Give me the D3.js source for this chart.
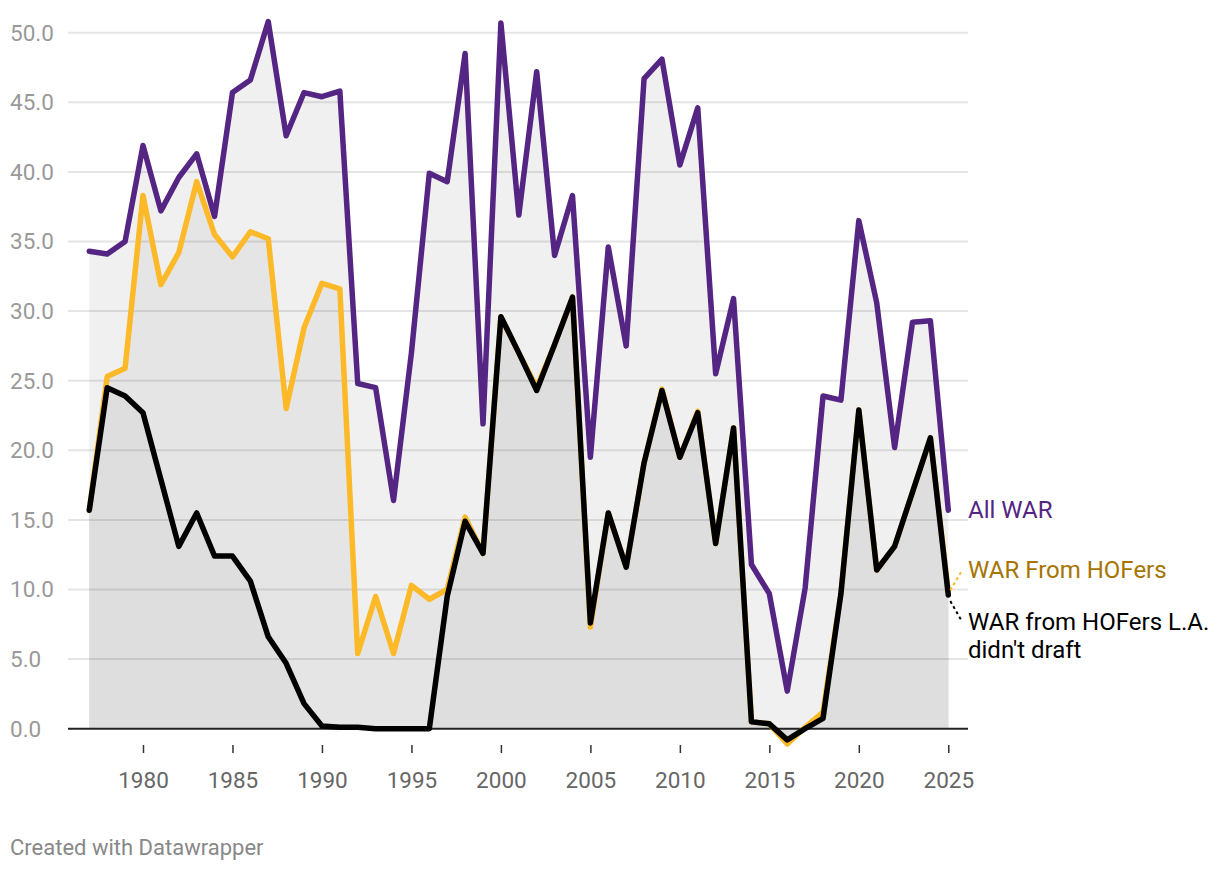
<!DOCTYPE html>
<html>
<head>
<meta charset="utf-8">
<script src="https://cdn.jsdelivr.net/npm/d3@7"></script>
<style>
  body { margin: 0; background: #fff; font-family: Roboto, "Noto Sans", sans-serif; }
  svg text { font-family: Roboto, "Noto Sans", sans-serif; }
</style>
</head>
<body>
<div id="chart"></div>
<script>
// Data
const years = d3.range(1977, 2026);

const allWar = [34.3, 34.1, 35.0, 41.9, 37.2, 39.6, 41.3, 36.8, 45.7, 46.6,
  50.8, 42.6, 45.7, 45.4, 45.8, 24.8, 24.5, 16.4, 27.0, 39.9,
  39.3, 48.5, 21.9, 50.7, 36.9, 47.2, 34.0, 38.3, 19.5, 34.6,
  27.5, 46.7, 48.1, 40.5, 44.6, 25.5, 30.9, 11.8, 9.7, 2.7,
  10.1, 23.9, 23.6, 36.5, 30.6, 20.2, 29.2, 29.3, 15.7];

const hofWar = [15.7, 25.3, 25.9, 38.3, 31.9, 34.2, 39.3, 35.5, 33.9, 35.7,
  35.2, 23.0, 28.8, 32.0, 31.6, 5.4, 9.5, 5.4, 10.3, 9.3,
  10.0, 15.2, 12.6, 29.6, 27.0, 24.5, 27.6, 31.0, 7.3, 15.5,
  11.6, 19.1, 24.4, 19.5, 22.8, 13.3, 21.6, 0.5, 0.35, -1.1,
  0.1, 1.2, 9.7, 22.9, 11.4, 13.1, 17.0, 20.9, 9.8];

const notDraftedWar = [15.7, 24.5, 23.9, 22.7, 17.9, 13.1, 15.5, 12.4, 12.4, 10.6,
  6.6, 4.7, 1.8, 0.2, 0.1, 0.1, 0.0, 0.0, 0.0, 0.0,
  9.5, 14.9, 12.6, 29.6, 27.0, 24.3, 27.6, 31.0, 7.6, 15.5,
  11.6, 19.1, 24.3, 19.5, 22.7, 13.3, 21.6, 0.5, 0.35, -0.8,
  0.0, 0.75, 9.7, 22.9, 11.4, 13.1, 17.0, 20.9, 9.6];

const yTicks = [0, 5, 10, 15, 20, 25, 30, 35, 40, 45, 50];
const xTicks = [1980, 1985, 1990, 1995, 2000, 2005, 2010, 2015, 2020, 2025];

const width = 1220, height = 870;

const svg = d3.select("#chart").append("svg")
  .attr("width", width)
  .attr("height", height);

const x = d3.scaleLinear().domain([1977, 2025]).range([89.3, 948.3]);
const y = d3.scaleLinear().domain([0, 50]).range([728.7, 32.7]);

const rows = years.map((yr, i) => ({
  year: yr, all: allWar[i], hof: hofWar[i], nd: notDraftedWar[i]
}));

// Area fills, stacked back to front
const areaFor = key => d3.area()
  .x(d => x(d.year))
  .y0(y(0))
  .y1(d => y(d[key]));

svg.append("path").datum(rows).attr("d", areaFor("all")).attr("fill", "#f0f0f0");
svg.append("path").datum(rows).attr("d", areaFor("hof")).attr("fill", "#e5e5e5");
svg.append("path").datum(rows).attr("d", areaFor("nd")).attr("fill", "#dedede");

// Gridlines
svg.append("g").selectAll("line")
  .data(yTicks.filter(t => t > 0))
  .join("line")
  .attr("x1", 68).attr("x2", 968)
  .attr("y1", d => y(d)).attr("y2", d => y(d))
  .attr("stroke", "rgba(0,0,0,0.1)")
  .attr("stroke-width", 2);

// Y labels
svg.append("g").selectAll("text")
  .data(yTicks)
  .join("text")
  .attr("x", 10)
  .attr("y", d => y(d))
  .attr("dy", "0.35em")
  .attr("fill", "#999")
  .style("font-size", "22.5px")
  .text(d => d.toFixed(1));

// Zero baseline
svg.append("line")
  .attr("x1", 68).attr("x2", 968)
  .attr("y1", y(0)).attr("y2", y(0))
  .attr("stroke", "#222")
  .attr("stroke-width", 2);

// X axis with ticks below the plot
const xAxis = svg.append("g")
  .attr("transform", "translate(0,745)")
  .call(d3.axisBottom(x).tickValues(xTicks).tickFormat(d3.format("d")).tickSize(8).tickPadding(19));
xAxis.select(".domain").remove();
xAxis.selectAll(".tick line").attr("stroke", "#333").attr("stroke-width", 1.5);
xAxis.selectAll(".tick text")
  .attr("fill", "#666")
  .style("font-size", "22.5px")
  .style("font-family", "Roboto, 'Noto Sans', sans-serif");

// Lines
const lineFor = key => d3.line()
  .x(d => x(d.year))
  .y(d => y(d[key]));

svg.append("path").datum(rows).attr("d", lineFor("all"))
  .attr("fill", "none").attr("stroke", "#542582").attr("stroke-width", 5.5)
  .attr("stroke-linejoin", "round").attr("stroke-linecap", "round");
svg.append("path").datum(rows).attr("d", lineFor("hof"))
  .attr("fill", "none").attr("stroke", "#fdb927").attr("stroke-width", 5.5)
  .attr("stroke-linejoin", "round").attr("stroke-linecap", "round");
svg.append("path").datum(rows).attr("d", lineFor("nd"))
  .attr("fill", "none").attr("stroke", "#000").attr("stroke-width", 5.5)
  .attr("stroke-linejoin", "round").attr("stroke-linecap", "round");

// Direct labels
const last = rows[rows.length - 1];
const lx = x(last.year);

svg.append("text")
  .attr("x", 968).attr("y", 518)
  .attr("fill", "#542582")
  .style("font-size", "24px")
  .text("All WAR");

svg.append("line")
  .attr("x1", lx + 2).attr("y1", y(last.hof) - 2)
  .attr("x2", lx + 14).attr("y2", 570)
  .attr("stroke", "#fdb927").attr("stroke-width", 2)
  .attr("stroke-dasharray", "3,3");
svg.append("text")
  .attr("x", 968).attr("y", 578)
  .attr("fill", "#a67400")
  .style("font-size", "24px")
  .text("WAR From HOFers");

svg.append("line")
  .attr("x1", lx + 2).attr("y1", y(last.nd) + 6)
  .attr("x2", lx + 14).attr("y2", 622)
  .attr("stroke", "#000").attr("stroke-width", 2)
  .attr("stroke-dasharray", "3,3");
const ndLabel = svg.append("text")
  .attr("fill", "#000")
  .style("font-size", "24px");
ndLabel.append("tspan").attr("x", 968).attr("y", 630).text("WAR from HOFers L.A.");
ndLabel.append("tspan").attr("x", 968).attr("y", 658).text("didn't draft");

// Footer
svg.append("text")
  .attr("x", 10).attr("y", 855)
  .attr("fill", "#888")
  .style("font-size", "22px")
  .text("Created with Datawrapper");
</script>
</body>
</html>
